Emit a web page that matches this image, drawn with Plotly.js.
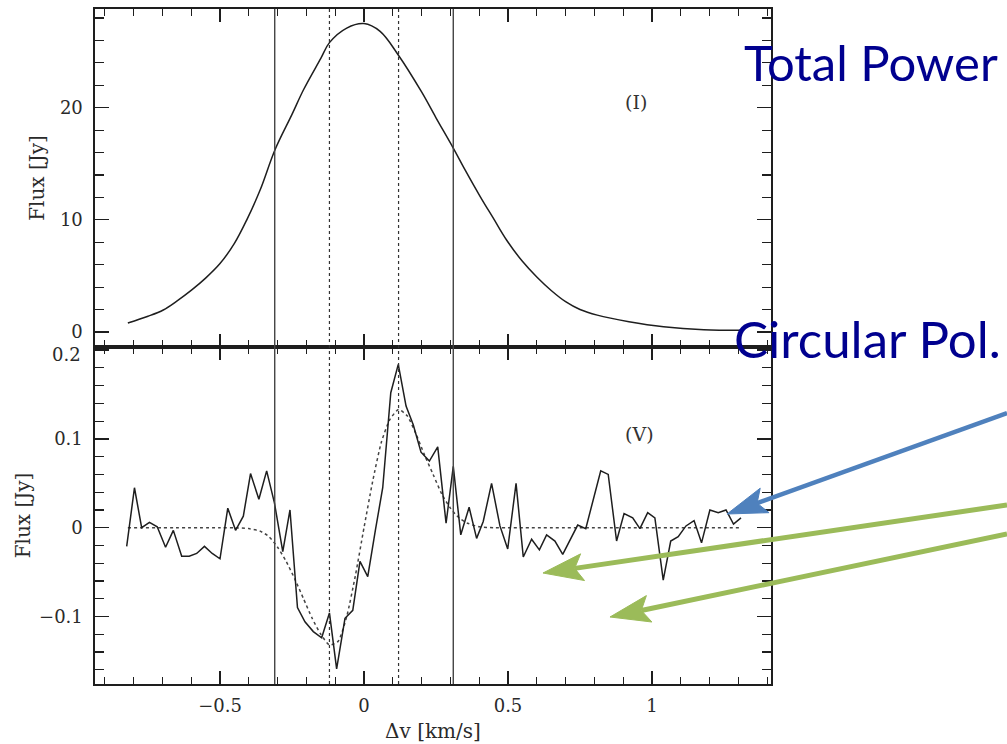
<!DOCTYPE html>
<html>
<head>
<meta charset="utf-8">
<script src="https://cdn.plot.ly/plotly-2.35.2.min.js"></script>
<style>html,body{margin:0;padding:0;background:#fff;}#chart{width:1007px;height:744px;}</style>
</head>
<body>
<div id="chart"></div>
<script>
// ---- Data ----
// Total power (Stokes I) profile
const velI = [-0.82,-0.75,-0.697,-0.65,-0.598,-0.55,-0.50,-0.45,-0.407,-0.36,-0.309,-0.25,-0.21,-0.15,-0.12,-0.06,0.0,0.056,0.119,0.20,0.25,0.31,0.35,0.403,0.45,0.495,0.55,0.60,0.65,0.70,0.75,0.81,0.92,1.04,1.18,1.31];
const fluxI = [0.8,1.4,1.96,2.75,3.75,4.8,6.1,7.9,10.0,12.7,16.25,19.4,21.6,24.4,25.8,27.1,27.5,26.8,24.7,21.4,19.1,16.4,14.5,12.1,10.1,8.2,6.3,4.9,3.7,2.7,2.0,1.5,0.92,0.47,0.2,0.15];

// Circular polarisation (Stokes V) spectrum
const velV = [-0.824,-0.797,-0.772,-0.745,-0.718,-0.689,-0.662,-0.633,-0.607,-0.581,-0.554,-0.527,-0.500,
  -0.473,-0.446,-0.419,-0.394,-0.365,-0.338,-0.311,-0.282,-0.257,
  -0.231,-0.205,-0.176,-0.147,-0.120,-0.095,-0.066,-0.039,-0.014,
  0.013,0.040,0.065,0.093,0.119,0.146,0.171,0.198,0.227,0.256,0.285,0.310,
  0.336,0.365,0.391,0.414,0.443,0.472,0.499,0.528,0.553,0.582,0.609,0.634,0.663,0.690,0.715,0.742,0.770,0.796,0.822,
  0.848,0.877,0.903,0.933,0.958,0.985,1.010,1.039,1.065,1.091,1.118,1.146,1.172,1.201,1.230,1.257,1.283,1.309];
const fluxV = [-0.021,0.045,0.000,0.006,0.001,-0.022,-0.003,-0.032,-0.032,-0.029,-0.021,-0.029,-0.035,
  0.022,-0.003,0.013,0.061,0.032,0.064,0.028,-0.027,0.020,
  -0.090,-0.106,-0.117,-0.124,-0.096,-0.159,-0.102,-0.093,-0.038,
  -0.055,-0.002,0.045,0.152,0.184,0.137,0.116,0.085,0.075,0.091,0.005,0.069,
  -0.008,0.023,-0.012,0.007,0.050,0.002,-0.024,0.050,-0.033,-0.013,-0.025,-0.008,-0.015,-0.030,-0.014,0.003,-0.001,0.032,0.064,
  0.060,-0.015,0.016,0.011,-0.001,0.017,0.011,-0.059,-0.015,-0.010,0.002,0.008,-0.017,0.020,0.017,0.020,0.004,0.011];

// Fitted V profile (dotted)
const velFit = [-0.82,-0.50,-0.45,-0.40,-0.36,-0.33,-0.30,-0.27,-0.24,-0.21,-0.18,-0.15,-0.12,-0.09,-0.06,-0.03,0.0,0.03,0.06,0.09,0.12,0.15,0.18,0.21,0.24,0.27,0.30,0.33,0.36,0.40,0.45,0.50,1.31];
const fluxFit = [0,0,0,-0.001,-0.004,-0.010,-0.022,-0.038,-0.058,-0.080,-0.102,-0.120,-0.132,-0.128,-0.100,-0.054,0.0,0.052,0.096,0.122,0.133,0.126,0.106,0.082,0.060,0.038,0.022,0.011,0.005,0.001,0,0,0];

// Vertical marker velocities
const solidMarks = [-0.31, 0.31];
const dashedMarks = [-0.12, 0.12];

// Tick settings
const xTickVals = [-0.5, 0, 0.5, 1];
const yTopTickVals = [0, 10, 20];
const yBotTickVals = [-0.1, 0, 0.1, 0.2];
const yBotTickText = ['−0.1', '0', '0.1', ''];   // top label "0.2" placed separately
const yBotTopLabel = '0.2';

// ---- Layout geometry (pixels) ----
const L = 95, R = 771, T = 9, B = 684;
const W = R - L, H = B - T;
const fx = p => (p - L) / W;
const fy = p => (B - p) / H;
const split = fy(347);

const serif = 'DejaVu Serif, Liberation Serif, serif';
const ink = '#1e1e1e';
const tickFont = {family: serif, size: 18, color: '#2a2a2a'};
const titleFont = {family: serif, size: 20, color: '#2a2a2a'};

const traces = [
  {x: velI, y: fluxI, xaxis: 'x2', yaxis: 'y2', mode: 'lines',
   line: {color: ink, width: 1.5, shape: 'spline', smoothing: 1.0}, hoverinfo: 'skip'},
  {x: velFit, y: fluxFit, xaxis: 'x', yaxis: 'y', mode: 'lines',
   line: {color: '#444', width: 1.5, dash: 'dot', shape: 'spline', smoothing: 0.6}, hoverinfo: 'skip'},
  {x: velV, y: fluxV, xaxis: 'x', yaxis: 'y', mode: 'lines',
   line: {color: ink, width: 1.5}, hoverinfo: 'skip'}
];

const axisCommon = {
  showgrid: false, zeroline: false, showline: true, linecolor: ink, linewidth: 1.6,
  mirror: 'allticks', ticks: 'inside', tickcolor: ink, tickwidth: 1.3,
  tickfont: tickFont
};

const xrange = [(L - 364) / 288, (R - 364) / 288];

const layout = {
  width: 1007, height: 744,
  margin: {l: L, r: 1007 - R, t: T, b: 744 - B},
  paper_bgcolor: '#fff', plot_bgcolor: '#fff',
  showlegend: false,
  xaxis: Object.assign({}, axisCommon, {
    domain: [0, 1], anchor: 'y', range: xrange,
    tickmode: 'array', tickvals: xTickVals, ticklen: 13,
    minor: {dtick: 0.1, tick0: 0, ticklen: 7, ticks: 'inside', tickcolor: ink, tickwidth: 1.2},
    ticklabelstandoff: 5,
    title: {text: 'Δv [km/s]', font: titleFont, standoff: 9}
  }),
  xaxis2: Object.assign({}, axisCommon, {
    domain: [0, 1], anchor: 'y2', range: xrange, matches: 'x',
    tickmode: 'array', tickvals: xTickVals, ticklen: 13, showticklabels: false,
    minor: {dtick: 0.1, tick0: 0, ticklen: 7, ticks: 'inside', tickcolor: ink, tickwidth: 1.2}
  }),
  yaxis: Object.assign({}, axisCommon, {
    domain: [0, split], anchor: 'x', range: [-0.176, 0.2035],
    tickmode: 'array', tickvals: yBotTickVals, ticktext: yBotTickText, ticklen: 14,
    minor: {dtick: 0.02, tick0: 0, ticklen: 9, ticks: 'inside', tickcolor: ink, tickwidth: 1.2},
    ticklabelstandoff: 7,
    title: {text: 'Flux [Jy]', font: titleFont, standoff: 3}
  }),
  yaxis2: Object.assign({}, axisCommon, {
    domain: [split, 1], anchor: 'x2', range: [-1.34, 28.8],
    tickmode: 'array', tickvals: yTopTickVals, ticklen: 14,
    minor: {dtick: 2, tick0: 0, ticklen: 9, ticks: 'inside', tickcolor: ink, tickwidth: 1.2},
    ticklabelstandoff: 7,
    title: {text: 'Flux [Jy]', font: titleFont, standoff: 10}
  }),
  shapes: [],
  annotations: [
    {xref: 'paper', yref: 'paper', x: fx(82), y: fy(354), text: yBotTopLabel, showarrow: false,
     xanchor: 'right', yanchor: 'middle', borderpad: 0, font: tickFont},
    {xref: 'x2', yref: 'y2', x: 0.944, y: 20.5, text: '(I)', showarrow: false,
     font: {family: serif, size: 19, color: '#333'}},
    {xref: 'x', yref: 'y', x: 0.955, y: 0.106, text: '(V)', showarrow: false,
     font: {family: serif, size: 19, color: '#333'}},
    {xref: 'paper', yref: 'paper', x: fx(871), y: fy(62), text: 'Total Power', showarrow: false,
     xanchor: 'center', yanchor: 'middle', font: {family: 'Lato, sans-serif', size: 49, color: '#00008F'}},
    {xref: 'paper', yref: 'paper', x: fx(868), y: fy(338), text: 'Circular Pol.', showarrow: false,
     xanchor: 'center', yanchor: 'middle', font: {family: 'Lato, sans-serif', size: 51, color: '#00008F'}}
  ]
};

// vertical marker lines across both panels
solidMarks.forEach(v => layout.shapes.push({type: 'line', xref: 'x', yref: 'paper', x0: v, x1: v, y0: 0, y1: 1,
  line: {color: '#444', width: 1.4}}));
dashedMarks.forEach(v => layout.shapes.push({type: 'line', xref: 'x', yref: 'paper', x0: v, x1: v, y0: 0, y1: 1,
  line: {color: '#333', width: 1.2, dash: 'dot'}}));

// callout arrows (pixel geometry converted to paper coordinates)
function arrow(x0, y0, x1, y1, color, width, headLen, headW) {
  const dx = x1 - x0, dy = y1 - y0, len = Math.hypot(dx, dy);
  const ux = dx / len, uy = dy / len, nx = -uy, ny = ux;
  const bx = x1 - ux * headLen, by = y1 - uy * headLen;
  const nbx = x1 - ux * headLen * 0.8, nby = y1 - uy * headLen * 0.8;
  layout.shapes.push({type: 'line', xref: 'paper', yref: 'paper',
    x0: fx(x0), y0: fy(y0), x1: fx(nbx), y1: fy(nby), line: {color: color, width: width}});
  const p = [[x1, y1], [bx + nx * headW / 2, by + ny * headW / 2], [nbx, nby], [bx - nx * headW / 2, by - ny * headW / 2]];
  const path = 'M' + p.map(q => fx(q[0]).toFixed(5) + ',' + fy(q[1]).toFixed(5)).join(' L') + ' Z';
  layout.shapes.push({type: 'path', xref: 'paper', yref: 'paper', path: path,
    fillcolor: color, line: {color: color, width: 1}});
}
arrow(1007, 413, 727, 514, '#4F81BD', 4.5, 40, 26);
arrow(1007, 505, 543, 573, '#9BBB59', 5, 40, 27);
arrow(1007, 534, 610, 617, '#9BBB59', 5, 40, 27);

Plotly.newPlot('chart', traces, layout, {staticPlot: true, displayModeBar: false});
</script>
</body>
</html>
